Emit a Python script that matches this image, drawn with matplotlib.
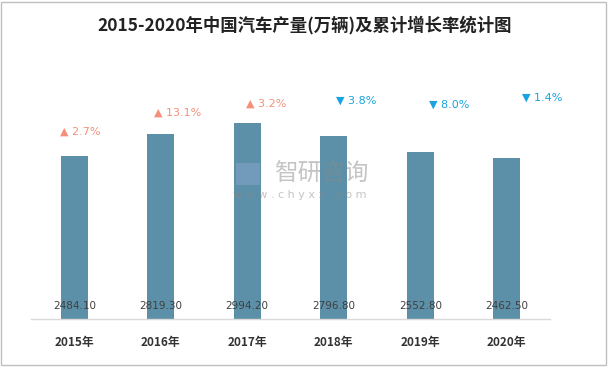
import matplotlib
matplotlib.use("Agg")
import matplotlib.pyplot as plt
from matplotlib.patches import Rectangle

plt.rcParams['font.family'] = ['Noto Sans CJK SC', 'DejaVu Sans']

years = ["2015年", "2016年", "2017年", "2018年", "2019年", "2020年"]
production = [2484.10, 2819.30, 2994.20, 2796.80, 2552.80, 2462.50]
growth = ["2.7%", "13.1%", "3.2%", "3.8%", "8.0%", "1.4%"]
growth_up = [True, True, True, False, False, False]
# label placement (data units / category units)
label_y = [2866, 3155, 3293, 3328, 3277, 3373]
label_dx = [-0.17, -0.08, -0.02, 0.03, 0.10, 0.18]

bar_color = "#5B90A8"
up_color = "#F4907A"
down_color = "#1AA3E0"

fig = plt.figure(figsize=(6.10, 3.68), dpi=100)
ax = fig.add_axes([31/610, 1-319/368, (550-31)/610, (319-57)/368])

x = list(range(len(years)))
ax.bar(x, production, width=0.31, color=bar_color, zorder=2)
ax.set_xlim(-0.5, len(years)-0.5)
ax.set_ylim(0, 4000)

for s in ["top", "right", "left"]:
    ax.spines[s].set_visible(False)
ax.spines["bottom"].set_color("#D9D9D9")
ax.spines["bottom"].set_linewidth(1.0)
ax.set_yticks([])
ax.set_xticks(x)
ax.set_xticklabels(years, fontsize=8.5, fontweight="bold", color="#333333")
ax.tick_params(axis="x", length=0, pad=12)

for i, v in enumerate(production):
    ax.text(i, 200, f"{v:.2f}", ha="center", va="center", fontsize=7.5,
            color="#404040", family="DejaVu Sans", zorder=3)

for i, g in enumerate(growth):
    sym = "▲" if growth_up[i] else "▼"
    col = up_color if growth_up[i] else down_color
    ax.text(i + label_dx[i], label_y[i], sym + " " + g, ha="left", va="center",
            fontsize=8, color=col, family="DejaVu Sans", zorder=3)

# watermark
fig.text(321/610, 1-174/368, "智研咨询", ha="center", va="center", fontsize=17,
         color="#8A8A8A", alpha=0.5, zorder=5)
fig.text(300/610, 1-195/368, "w w w . c h y x x . c o m", ha="center", va="center",
         fontsize=8, color="#8A8A8A", alpha=0.5, zorder=5, family="DejaVu Sans")
fig.patches.append(Rectangle((236/610, 1-185/368), 24/610, 22/368, transform=fig.transFigure,
                             facecolor="#8FA8D0", alpha=0.45, edgecolor="none", zorder=5))

fig.text(0.5, 1-25/368, "2015-2020年中国汽车产量(万辆)及累计增长率统计图", ha="center",
         va="center", fontsize=12.5, color="#222222", fontweight="bold")

fig.patches.append(Rectangle((1/610, 1-365/368), 605/610, 363/368, transform=fig.transFigure,
                             facecolor="none", edgecolor="#BFBFBF", linewidth=1.0))

fig.savefig("out.png", dpi=100)
